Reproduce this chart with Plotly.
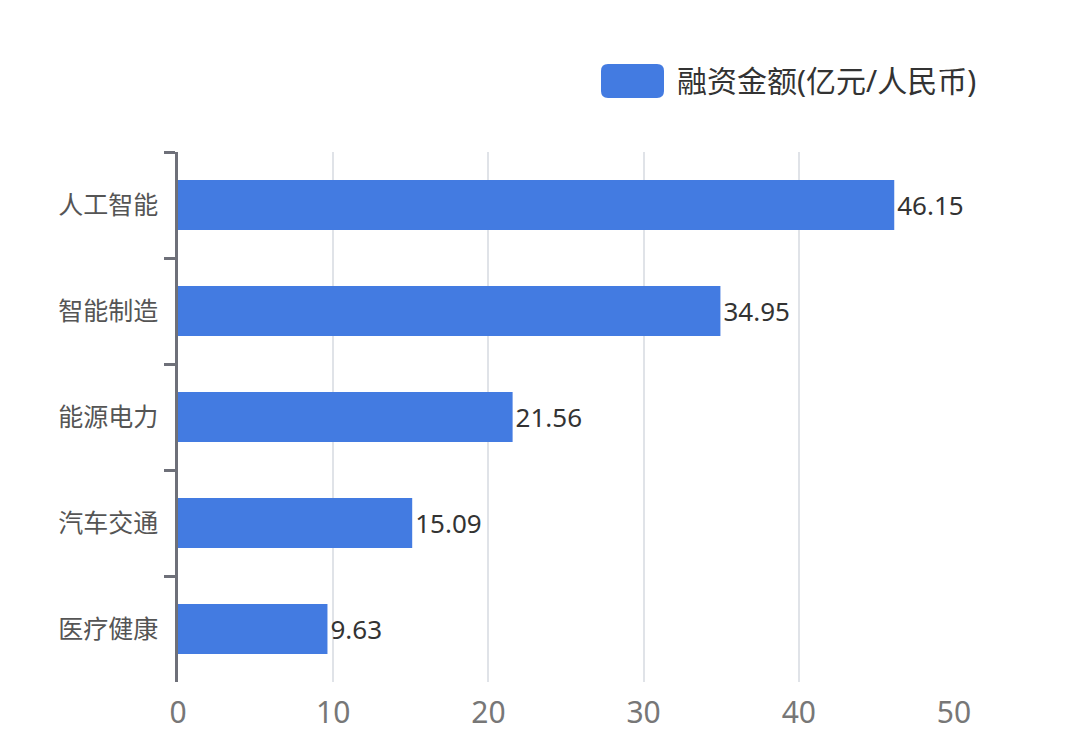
import plotly.graph_objects as go

categories = ["人工智能", "智能制造", "能源电力", "汽车交通", "医疗健康"]
values = [46.15, 34.95, 21.56, 15.09, 9.63]
series_name = "融资金额(亿元/人民币)"
x_ticks = [0, 10, 20, 30, 40, 50]

BAR_COLOR = "#437BE1"
FONT = "Noto Sans, Noto Sans CJK SC"

W, H = 1080, 753
# target plot area in page pixels: x 177..953, y 151..681 (page has ~7px body offset)
OFF_X, OFF_Y = 7, 7
L, T = 177 - OFF_X, 151 - OFF_Y
pw, ph = 776, 530
R, B = W - L - pw, H - T - ph

fig = go.Figure()
fig.add_trace(go.Bar(
    y=categories, x=values, orientation="h",
    marker=dict(color=BAR_COLOR, line=dict(width=0)),
    text=[f"{v:.2f}" for v in values], textposition="outside",
    textfont=dict(size=26, color="#333333", family=FONT),
    cliponaxis=False, name=series_name, showlegend=False,
))

def px2x(px):
    return (px - 177) / pw

def px2y(py):
    return (681 - py) / ph

x0, x1, y0, y1 = 600, 663, 63, 97
r = 7
rx, ry = r / pw, r / ph
X0, X1, Yt, Yb = px2x(x0), px2x(x1), px2y(y0), px2y(y1)
path = (f"M {X0+rx},{Yb} L {X1-rx},{Yb} Q {X1},{Yb} {X1},{Yb+ry} "
        f"L {X1},{Yt-ry} Q {X1},{Yt} {X1-rx},{Yt} L {X0+rx},{Yt} "
        f"Q {X0},{Yt} {X0},{Yt-ry} L {X0},{Yb+ry} Q {X0},{Yb} {X0+rx},{Yb} Z")
fig.add_shape(type="path", path=path, xref="paper", yref="paper",
              fillcolor=BAR_COLOR, line=dict(width=0))
fig.add_annotation(x=px2x(674), y=px2y(80), xref="paper", yref="paper",
                   text=series_name, showarrow=False, xanchor="left", yanchor="middle",
                   font=dict(size=30, color="#333333", family=FONT))

fig.update_layout(
    width=W, height=H,
    margin=dict(l=L, r=R, t=T, b=B),
    paper_bgcolor="white", plot_bgcolor="white",
    bargap=0.53,
    font=dict(family=FONT),
    xaxis=dict(range=[0, 50], tickvals=x_ticks, showgrid=True, gridcolor="#E0E3E8",
               gridwidth=1.5, zeroline=False, showline=False, ticks="",
               ticklabelstandoff=10,
               tickfont=dict(size=30, color="#777777", family=FONT)),
    yaxis=dict(categoryorder="array", categoryarray=categories, autorange="reversed",
               showline=True, linecolor="#6E7079", linewidth=2.5,
               ticks="outside", ticklen=11, tickwidth=2.5, tickcolor="#6E7079",
               tickson="boundaries", showgrid=False, ticklabelstandoff=12,
               tickfont=dict(size=25, color="#555555", family=FONT)),
)

fig.write_html("out.html")
